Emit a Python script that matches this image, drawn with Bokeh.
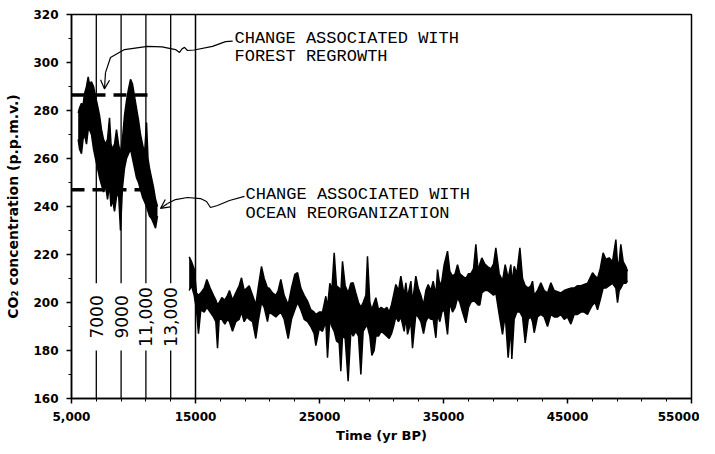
import math
from bokeh.plotting import figure
from bokeh.models import ColumnDataSource, FixedTicker, Range1d, Arrow, OpenHead
from bokeh.core.properties import value
from bokeh.embed import file_html
from bokeh.resources import INLINE

# ---------------- data ----------------
hol_years = [5540, 5645, 5805, 5930, 6050, 6210, 6345, 6450, 6610, 6775,
             6935, 7100, 7260, 7420, 7580, 7740, 7905, 8065, 8185, 8305,
             8470, 8630, 8790, 8950, 9110, 9275, 9435, 9600, 9760, 9920,
             10080, 10240, 10405, 10565, 10725, 10890, 11050, 11170, 11290, 11450,
             11615, 11775, 11935]
hol_low = [268, 264, 262, 268, 270, 266, 272, 272, 270, 264,
           260, 256, 252, 249, 246, 249, 243, 249, 240, 243,
           238, 244, 246, 230, 248, 256, 260, 262, 264, 260,
           256, 252, 250, 247, 244, 242, 240, 238, 236, 235,
           233, 231, 236]
hol_high = [279, 281, 283, 282, 287, 290, 294, 291, 292, 290,
            286, 282, 278, 272, 268, 266, 268, 277, 266, 264,
            266, 272, 266, 262, 268, 278, 284, 289, 293, 291,
            286, 281, 276, 270, 266, 262, 275, 260, 256, 252,
            248, 243, 240]

gla_years = [14490, 14680, 14895, 15080, 15240, 15430, 15700, 15915, 16180, 16450,
             16640, 16775, 16910, 17125, 17365, 17580, 17740, 17985, 18250, 18520,
             18710, 18925, 19140, 19330, 19600, 19865, 20055, 20320, 20540, 20805,
             20940, 21210, 21480, 21670, 21880, 22150, 22475, 22740, 23010, 23230,
             23495, 23765, 24035, 24300, 24570, 24705, 24975, 25240, 25510, 25645,
             25835, 25995, 26185, 26370, 26590, 26720, 26855, 27070, 27310, 27530,
             27715, 27930, 28145, 28335, 28520, 28740, 28870, 29060, 29220, 29410,
             29545, 29760, 29975, 30215, 30430, 30620, 30805, 30970, 31155, 31370,
             31560, 31830, 31965, 32100, 32370, 32500, 32770, 32960, 33175, 33390,
             33575, 33765, 33980, 34170, 34385, 34520, 34705, 34870, 35055, 35325,
             35510, 35725, 35940, 36130, 36320, 36535, 36800, 37020, 37205, 37420,
             37610, 37795, 37930, 38090, 38335, 38550, 38820, 39035, 39220, 39490,
             39760, 39975, 40215, 40430, 40510, 40700, 40915, 41160, 41375, 41590,
             41830, 42045, 42180, 42315, 42580, 42850, 43120, 43390, 43660, 43925,
             44195, 44465, 44735, 45000, 45270, 45540, 45810, 46080, 46345, 46615,
             46800, 47020, 47230, 47420, 47635, 47875, 48090, 48360, 48630, 48900,
             49035, 49170, 49300, 49490, 49705, 49840]
gla_low = [205, 207, 203, 197, 187, 197, 196, 198, 196, 194,
           192, 181, 193, 193, 191, 193, 192, 188, 192, 193,
           196, 192, 194, 193, 192, 185, 192, 200, 198, 192,
           196, 195, 194, 195, 196, 193, 185, 193, 197, 200,
           197, 193, 192, 190, 187, 182, 189, 188, 192, 177,
           193, 190, 188, 184, 183, 171.4, 186, 185, 167.2, 188,
           186, 188, 186, 170, 188, 190, 190, 186, 178, 180,
           186, 186, 188, 187, 186, 185, 187, 190, 194, 192,
           194, 188, 194, 186.7, 192, 181, 195, 194, 192, 187,
           192, 194, 193, 193, 185.3, 195, 192, 196, 197, 186.7,
           200, 196, 198, 202, 200, 196, 191.5, 198, 200, 201,
           200, 199, 199, 204, 205, 205, 204, 203, 204, 195,
           186.7, 195, 177, 190, 176.5, 193, 196, 196, 194, 183.2,
           193, 194, 192, 187.4, 194, 195, 194, 190, 195, 194,
           194, 195, 193, 194, 191, 195, 195, 196, 196, 195,
           197, 199, 200, 197, 201, 206, 206, 207, 208, 206,
           199.9, 205, 206, 208, 208, 209]
gla_high = [219, 217, 214, 204, 203, 204, 206, 209.6, 206, 203,
            201, 199, 200, 202, 201, 203, 205, 201, 204, 207,
            210.3, 205, 206, 207, 203, 199, 206, 215, 210, 206,
            206, 204, 203, 205, 209.6, 203, 199, 206, 211.7, 212.4,
            206, 203, 200.6, 197, 196, 195, 196, 196, 202.6, 198,
            208, 205, 220.7, 207, 206, 204, 217.2, 207, 204, 208,
            208.2, 204, 200, 198, 200, 203, 219.3, 200, 197, 200,
            202, 197, 198, 197, 198, 196, 199, 203, 207.5, 205,
            211, 203, 208.2, 202, 208.9, 200, 211, 206, 203, 199,
            205, 207.5, 205, 208.9, 203, 213.7, 207, 209, 215.8, 221.4,
            213, 211, 212, 215.8, 212, 211, 210, 212, 212, 214,
            224.2, 213, 216, 218.6, 216, 215, 214, 216, 222.8, 212,
            209, 215.8, 210, 215.8, 208, 215.1, 212, 222.8, 210, 207,
            206, 207, 208.9, 203, 205, 208.2, 205, 204, 208.2, 205,
            204.5, 204, 205, 205.5, 206, 206, 207, 207, 207.5, 208,
            210, 212.4, 211, 210, 214, 220.7, 218, 218.6, 217, 226.2,
            216, 217, 224.2, 217, 215, 213]

marker_years = [7000, 9000, 11000, 13000]
marker_labels = ["7000", "9000", "11,000", "13,000"]
boundary_year = 15000

level_values = [286.5, 247.0]
level_ends = [11400, 11100]

x_ticks = [5000, 15000, 25000, 35000, 45000, 55000]
x_tick_labels = ["5,000", "15000", "25000", "35000", "45000", "55000"]
y_ticks = [160, 180, 200, 220, 240, 260, 280, 300, 320]

note_forest = ["CHANGE ASSOCIATED WITH", "FOREST REGROWTH"]
note_ocean = ["CHANGE ASSOCIATED WITH", "OCEAN REORGANIZATION"]

# annotation leader paths (year, ppmv)
lead1_x = [18000, 17420, 16371, 14900, 14350, 14113, 13900, 13710, 13388, 12300, 11130, 9275, 8145, 7742]
lead1_y = [308.9, 308.7, 306.7, 305.2, 305.0, 306.3, 305.6, 304.2, 305.4, 306.5, 306.7, 305.4, 302.1, 295.8]
lead1_tip = (7661, 289.0)

lead2_x = [18952, 17742, 16775, 16210, 15888, 15404, 14355, 13388, 12742]
lead2_y = [244.2, 242.5, 240.4, 239.6, 242.1, 243.3, 243.75, 242.9, 241.25]
lead2_tip = (12178, 239.2)

# ---------------- figure ----------------
X0, X1 = 5000, 55000
Y0, Y1 = 160, 320

p = figure(width=699, height=446, x_range=Range1d(X0, X1), y_range=Range1d(Y0, Y1),
           output_backend="svg", toolbar_location=None,
           min_border_left=71, min_border_right=8, min_border_top=14, min_border_bottom=48)
p.background_fill_color = "white"
p.border_fill_color = "white"
p.outline_line_color = "black"
p.outline_line_width = 1.5
p.xgrid.visible = False
p.ygrid.visible = False

tick_font = "DejaVu Sans"
p.xaxis.ticker = FixedTicker(ticks=x_ticks, minor_ticks=list(range(X0, X1 + 1, 2000)))
p.xaxis.major_label_overrides = {t: l for t, l in zip(x_ticks, x_tick_labels)}
p.yaxis.ticker = FixedTicker(ticks=y_ticks, minor_ticks=list(range(Y0, Y1 + 1, 10)))
for ax in (p.xaxis[0], p.yaxis[0]):
    ax.axis_line_color = "black"
    ax.axis_line_width = 1.5
    ax.major_tick_line_color = "black"
    ax.major_tick_line_width = 1.5
    ax.minor_tick_line_color = "black"
    ax.major_tick_out = 5
    ax.major_tick_in = 0
    ax.minor_tick_out = 3
    ax.minor_tick_in = 0
    ax.major_label_text_font = tick_font
    ax.major_label_text_font_style = "bold"
    ax.major_label_text_font_size = "12px"
    ax.major_label_text_color = "black"
    ax.axis_label_text_font = tick_font
    ax.axis_label_text_font_style = "bold"
    ax.axis_label_text_font_size = "13px"
    ax.axis_label_text_color = "black"

p.xaxis.axis_label = "Time (yr BP)"
p.xaxis.major_label_standoff = 8
p.xaxis.axis_label_standoff = 4
p.yaxis.axis_label = "CO\u2082 concentration (p.p.m.v.)"
p.yaxis.major_label_standoff = 8
p.yaxis.axis_label_standoff = 9
p.yaxis.axis_label_text_font_size = "14px"

# vertical reference lines with gap for labels
gap_top, gap_bottom, label_y = 208, 180, 194
p.segment(x0=marker_years, y0=[Y1] * 4, x1=marker_years, y1=[gap_top] * 4,
          line_color="black", line_width=1.3)
p.segment(x0=marker_years, y0=[gap_bottom] * 4, x1=marker_years, y1=[Y0] * 4,
          line_color="black", line_width=1.3)
p.segment(x0=[boundary_year], y0=[Y0], x1=[boundary_year], y1=[Y1],
          line_color="black", line_width=1.5)
p.text(x=marker_years, y=[label_y] * 4, text=marker_labels, angle=math.pi / 2,
       text_align="center", text_baseline="middle",
       text_font=value("DejaVu Sans"), text_font_size="17px", text_color="black")

# data band
for yrs, lo, hi in ((hol_years, hol_low, hol_high), (gla_years, gla_low, gla_high)):
    src = ColumnDataSource(dict(year=yrs, low=lo, high=hi))
    p.varea(x="year", y1="low", y2="high", source=src, fill_color="black")
    p.line("year", "high", source=src, line_color="black", line_width=1.5)
    p.line("year", "low", source=src, line_color="black", line_width=1.5)

# dashed level lines
p.segment(x0=[X0] * 2, y0=level_values, x1=level_ends, y1=level_values,
          line_color="black", line_width=3.5, line_dash="13 8")

# annotations
note_font = value("Liberation Mono")
p.text(x=[18146, 18146], y=[310.0, 302.3], text=note_forest, text_align="left",
       text_baseline="middle", text_font=note_font, text_font_size="17px", text_color="black")
p.text(x=[19033, 19033], y=[245.2, 237.0], text=note_ocean, text_align="left",
       text_baseline="middle", text_font=note_font, text_font_size="17px", text_color="black")

p.line(lead1_x, lead1_y, line_color="black", line_width=1.2)
p.add_layout(Arrow(x_start=lead1_x[-1], y_start=lead1_y[-1], x_end=lead1_tip[0], y_end=lead1_tip[1],
                   line_color="black", line_width=1.2,
                   end=OpenHead(size=9, line_color="black", line_width=1.2)))
p.line(lead2_x, lead2_y, line_color="black", line_width=1.2)
p.add_layout(Arrow(x_start=lead2_x[-1], y_start=lead2_y[-1], x_end=lead2_tip[0], y_end=lead2_tip[1],
                   line_color="black", line_width=1.2,
                   end=OpenHead(size=9, line_color="black", line_width=1.2)))

open("out.html", "w").write(file_html(p, INLINE))
